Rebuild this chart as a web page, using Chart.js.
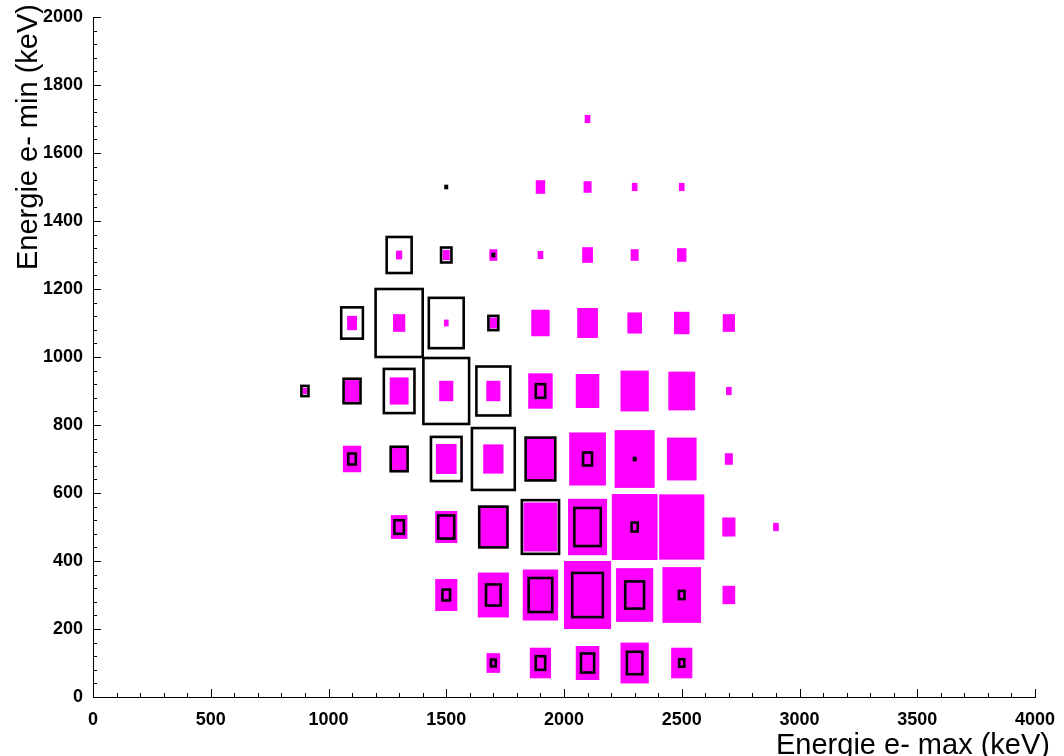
<!DOCTYPE html>
<html>
<head>
<meta charset="utf-8">
<script src="https://cdn.jsdelivr.net/npm/chart.js@4.4.1/dist/chart.umd.min.js"></script>
<style>
  html, body { margin: 0; padding: 0; background: #fff; }
  #wrap { width: 1064px; height: 756px; }
</style>
</head>
<body>
<div id="wrap"><canvas id="boxChart"></canvas></div>
<script>
/* bin centres (keV), bins are 200 keV wide */
const xBins = [900, 1100, 1300, 1500, 1700, 1900, 2100, 2300, 2500, 2700, 2900];
const yBins = [100, 300, 500, 700, 900, 1100, 1300, 1500, 1700];

/* bin contents, one row per yBin (box side ~ content / zMax) */
const magentaZ = [
    [0, 0, 0, 0, 29, 45, 50, 60, 45, 0, 0],
    [0, 0, 0, 47, 66, 75, 100, 79, 82, 27, 0],
    [0, 0, 35, 47, 58, 72, 83, 97, 96, 28, 12],
    [0, 39, 33, 44, 43, 63, 78, 85, 63, 17, 0],
    [9, 32, 40, 30, 30, 52, 50, 60, 57, 12, 0],
    [0, 21, 26, 10, 16, 39, 44, 31, 33, 26, 0],
    [0, 0, 13, 15, 17, 12, 23, 17, 20, 0, 0],
    [0, 0, 0, 0, 0, 20, 17, 12, 12, 0, 0],
    [0, 0, 0, 0, 0, 0, 12, 0, 0, 0, 0]
];
const blackZ = [
    [0, 0, 0, 0, 10, 20, 28, 33, 11, 0, 0],
    [0, 0, 0, 16, 31, 50, 65, 40, 12, 0, 0],
    [0, 0, 20, 34, 60, 79, 56, 13, 0, 0, 0],
    [0, 16, 36, 65, 91, 63, 19, 3, 0, 0, 0],
    [15, 36, 65, 97, 72, 20, 0, 0, 0, 0, 0],
    [0, 46, 100, 74, 21, 0, 0, 0, 0, 0, 0],
    [0, 0, 53, 22, 3, 0, 0, 0, 0, 0, 0],
    [0, 0, 0, 3, 0, 0, 0, 0, 0, 0, 0],
    [0, 0, 0, 0, 0, 0, 0, 0, 0, 0, 0]
];
const zMax = 100;
const binWidth = 200;

const xTickLabels = [0, 500, 1000, 1500, 2000, 2500, 3000, 3500, 4000];
const yTickLabels = [0, 200, 400, 600, 800, 1000, 1200, 1400, 1600, 1800, 2000];

function toPoints(z) {
    const pts = [];
    yBins.forEach((y, r) => xBins.forEach((x, c) => {
        if (z[r][c] > 0) pts.push({ x: x, y: y, z: z[r][c] });
    }));
    return pts;
}

const FONT = '"Liberation Sans", Arial, Helvetica, sans-serif';

/* ROOT-like "BOX" drawing: each bin a rectangle scaled by its content */
const boxPlugin = {
    id: 'boxes',
    afterDatasetsDraw(chart) {
        const { ctx, chartArea, scales: { x, y } } = chart;
        ctx.save();
        ctx.beginPath();
        ctx.rect(chartArea.left, chartArea.top, chartArea.width, chartArea.height);
        ctx.clip();
        chart.data.datasets.forEach(ds => {
            ds.data.forEach(p => {
                const h = p.z / zMax * binWidth / 2;
                const x0 = x.getPixelForValue(p.x - h), x1 = x.getPixelForValue(p.x + h);
                const y0 = y.getPixelForValue(p.y + h), y1 = y.getPixelForValue(p.y - h);
                if (ds.boxFill) {
                    ctx.fillStyle = ds.boxFill;
                    ctx.fillRect(x0, y0, x1 - x0, y1 - y0);
                }
                if (ds.boxLine) {
                    ctx.strokeStyle = ds.boxLine;
                    ctx.lineWidth = ds.boxLineWidth;
                    ctx.strokeRect(x0, y0, x1 - x0, y1 - y0);
                }
            });
        });
        ctx.restore();
    }
};

/* inward major/minor ticks + axis titles */
const axisPlugin = {
    id: 'rootAxes',
    afterDraw(chart) {
        const { ctx, chartArea, scales: { x, y } } = chart;
        ctx.save();
        ctx.strokeStyle = '#000';
        ctx.lineWidth = 1;
        ctx.beginPath();
        for (let v = 0; v <= 4000; v += 100) {
            const px = Math.round(x.getPixelForValue(v)) + 0.5;
            const len = v % 500 === 0 ? 8 : 4;
            ctx.moveTo(px, chartArea.bottom);
            ctx.lineTo(px, chartArea.bottom - len);
        }
        for (let v = 0; v <= 2000; v += 40) {
            const py = Math.round(y.getPixelForValue(v)) + 0.5;
            const len = v % 200 === 0 ? 8 : 4;
            ctx.moveTo(chartArea.left, py);
            ctx.lineTo(chartArea.left + len, py);
        }
        ctx.stroke();

        ctx.fillStyle = '#000';
        ctx.font = '29px ' + FONT;
        ctx.textBaseline = 'alphabetic';
        ctx.textAlign = 'right';
        ctx.fillText('Energie e- max (keV)', 1050, 754);

        ctx.translate(37, 270);
        ctx.rotate(-Math.PI / 2);
        ctx.textAlign = 'left';
        ctx.fillText('Energie e- min (keV)', 0, 0);
        ctx.restore();
    }
};

new Chart(document.getElementById('boxChart'), {
    type: 'scatter',
    data: {
        datasets: [
            {
                label: 'magenta',
                data: toPoints(magentaZ),
                pointRadius: 0,
                boxFill: '#ff00ff'
            },
            {
                label: 'black',
                data: toPoints(blackZ),
                pointRadius: 0,
                boxLine: '#000000',
                boxLineWidth: 2.6
            }
        ]
    },
    options: {
        responsive: true,
        maintainAspectRatio: false,
        animation: false,
        layout: { padding: { left: 0, right: 29, top: 17, bottom: 0 } },
        plugins: {
            legend: { display: false },
            tooltip: { enabled: false }
        },
        scales: {
            x: {
                type: 'linear',
                min: 0,
                max: 4000,
                afterFit: s => {
                    s.height = 59;
                    s.paddingLeft = 0;
                    s.paddingRight = 0;
                },
                afterBuildTicks: s => { s.ticks = xTickLabels.map(v => ({ value: v })); },
                grid: { display: false, drawTicks: false },
                border: { display: true, color: '#000', width: 1 },
                ticks: {
                    padding: 12,
                    maxRotation: 0,
                    autoSkip: false,
                    color: '#000',
                    font: { family: FONT, size: 18, weight: 'bold' },
                    callback: v => String(v)
                }
            },
            y: {
                type: 'linear',
                min: 0,
                max: 2000,
                afterFit: s => {
                    s.width = 93;
                    s.paddingTop = 0;
                    s.paddingBottom = 0;
                },
                afterBuildTicks: s => { s.ticks = yTickLabels.map(v => ({ value: v })); },
                grid: { display: false, drawTicks: false },
                border: { display: true, color: '#000', width: 1 },
                ticks: {
                    padding: 10,
                    autoSkip: false,
                    color: '#000',
                    font: { family: FONT, size: 18, weight: 'bold' },
                    callback: v => String(v)
                }
            }
        }
    },
    plugins: [boxPlugin, axisPlugin]
});
</script>
</body>
</html>
